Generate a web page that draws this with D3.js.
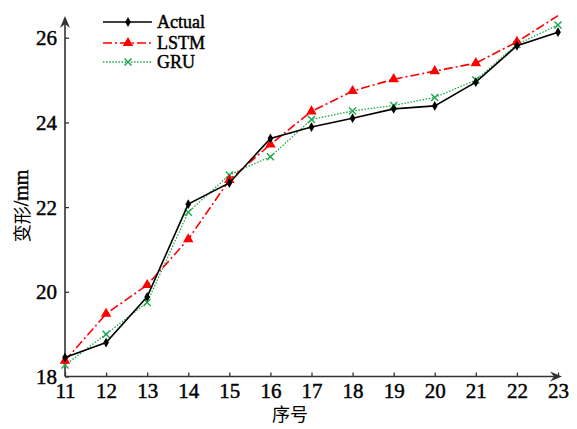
<!DOCTYPE html>
<html><head><meta charset="utf-8">
<script src="https://cdn.jsdelivr.net/npm/d3@7/dist/d3.min.js"></script>
<style>body{margin:0;background:#fff}svg{display:block}</style>
</head><body>
<svg id="c" width="577" height="429"></svg>
<script>
const categories = [11,12,13,14,15,16,17,18,19,20,21,22,23];
const actual = [18.45,18.80,19.88,22.07,22.57,23.62,23.89,24.10,24.32,24.39,24.95,25.81,26.13];
const lstm   = [18.37,19.48,20.16,21.24,22.64,23.48,24.26,24.74,25.02,25.21,25.40,25.90,26.52];
const gru    = [18.27,19.00,19.75,21.88,22.76,23.19,24.07,24.27,24.40,24.59,25.00,25.84,26.30];
const yTicks = [18,20,22,24,26];
const seriesNames = ["Actual","LSTM","GRU"];

const svg = d3.select("#c");
const x = d3.scaleLinear().domain([11,23]).range([65,558]);
const y = d3.scaleLinear().domain([18,26]).range([376.5,37.7]);
const yTop = y.invert(17);
const serif = "'Liberation Serif','Times New Roman',serif";
const axisColor = "#333";

function heavy(sel){ return sel.attr("stroke","#000").attr("stroke-width",0.45).attr("fill","#000"); }

// axes
const xAxis = d3.axisBottom(x).tickValues(categories).tickSize(-4).tickPadding(6).tickFormat(d3.format("d"));
const gx = svg.append("g").attr("transform","translate(0,376.5)").call(xAxis);
gx.select(".domain").remove();
gx.selectAll(".tick line").attr("stroke",axisColor).attr("stroke-width",1.3);
heavy(gx.selectAll(".tick text").attr("font-family",serif).attr("font-size",21).attr("dy","0.72em"));

const yAxis = d3.axisLeft(y).tickValues(yTicks).tickSize(-4).tickPadding(8).tickFormat(d3.format("d"));
const gy = svg.append("g").attr("transform","translate(65,0)").call(yAxis);
gy.select(".domain").remove();
gy.selectAll(".tick line").attr("stroke",axisColor).attr("stroke-width",1.3);
heavy(gy.selectAll(".tick text").attr("font-family",serif).attr("font-size",21).attr("dy","0.34em"));

// axis lines with arrows
svg.append("line").attr("x1",65).attr("y1",376.5).attr("x2",65).attr("y2",20)
  .attr("stroke",axisColor).attr("stroke-width",1.6);
svg.append("path").attr("d","M65,16 L60,28 L65,24 L70,28 Z").attr("fill",axisColor);
svg.append("line").attr("x1",65).attr("y1",376.5).attr("x2",558).attr("y2",376.5)
  .attr("stroke",axisColor).attr("stroke-width",1.6);
svg.append("path").attr("d","M562,376.5 L550,371.5 L554,376.5 L550,381.5 Z").attr("fill",axisColor);

// axis titles
svg.append("text").attr("x",290).attr("y",413).attr("text-anchor","middle").attr("dominant-baseline","central")
  .attr("font-family","'Noto Sans CJK SC',serif").attr("font-size",18).text("序号");
const yl = svg.append("text").attr("transform","translate(21,206) rotate(-90)")
  .attr("text-anchor","middle").attr("dominant-baseline","central");
yl.append("tspan").attr("font-family","'Noto Sans CJK SC',serif").attr("font-size",18).text("变形");
heavy(yl.append("tspan").attr("font-family",serif).attr("font-size",20).text("/mm"));

const styles = [
  {data:actual, color:"#000", width:1.6, dash:null, marker:"diamond"},
  {data:lstm, color:"#ff0000", width:1.6, dash:"9,3,2,3", marker:"triangle"},
  {data:gru, color:"#19a94a", width:1.3, dash:"1.5,1.6", marker:"x"}
];

function drawMarker(g, type, color, cx, cy){
  if(type==="diamond"){
    g.append("path").attr("d",d3.symbol(d3.symbolDiamond,28)()).attr("transform",`translate(${cx},${cy})`).attr("fill",color);
  } else if(type==="triangle"){
    g.append("path").attr("d",d3.symbol(d3.symbolTriangle,48)()).attr("transform",`translate(${cx},${cy})`).attr("fill",color);
  } else {
    g.append("path").attr("d",d3.symbol(d3.symbolX,34)()).attr("transform",`translate(${cx},${cy})`)
      .attr("fill","none").attr("stroke",color).attr("stroke-width",1.4);
  }
}

const line = d3.line().x((d,i)=>x(categories[i])).y(d=>y(d));
// draw GRU, LSTM, then Actual on top
[2,1,0].forEach(k=>{
  const s = styles[k];
  const g = svg.append("g");
  g.append("path").attr("d",line(s.data)).attr("fill","none").attr("stroke",s.color)
    .attr("stroke-width",s.width).attr("stroke-dasharray",s.dash);
  s.data.forEach((v,i)=>{ if(v<=yTop) drawMarker(g,s.marker,s.color,x(categories[i]),y(v)); });
});

// legend
const legY = [22,43,62];
seriesNames.forEach((name,k)=>{
  const s = styles[k];
  const g = svg.append("g");
  g.append("line").attr("x1",103).attr("x2",152).attr("y1",legY[k]).attr("y2",legY[k])
    .attr("stroke",s.color).attr("stroke-width",s.width).attr("stroke-dasharray",s.dash);
  drawMarker(g,s.marker,s.color,128,legY[k]);
  heavy(g.append("text").attr("x",157).attr("y",legY[k]).attr("dominant-baseline","central")
    .attr("font-family",serif).attr("font-size",18).text(name));
});
</script>
</body></html>
